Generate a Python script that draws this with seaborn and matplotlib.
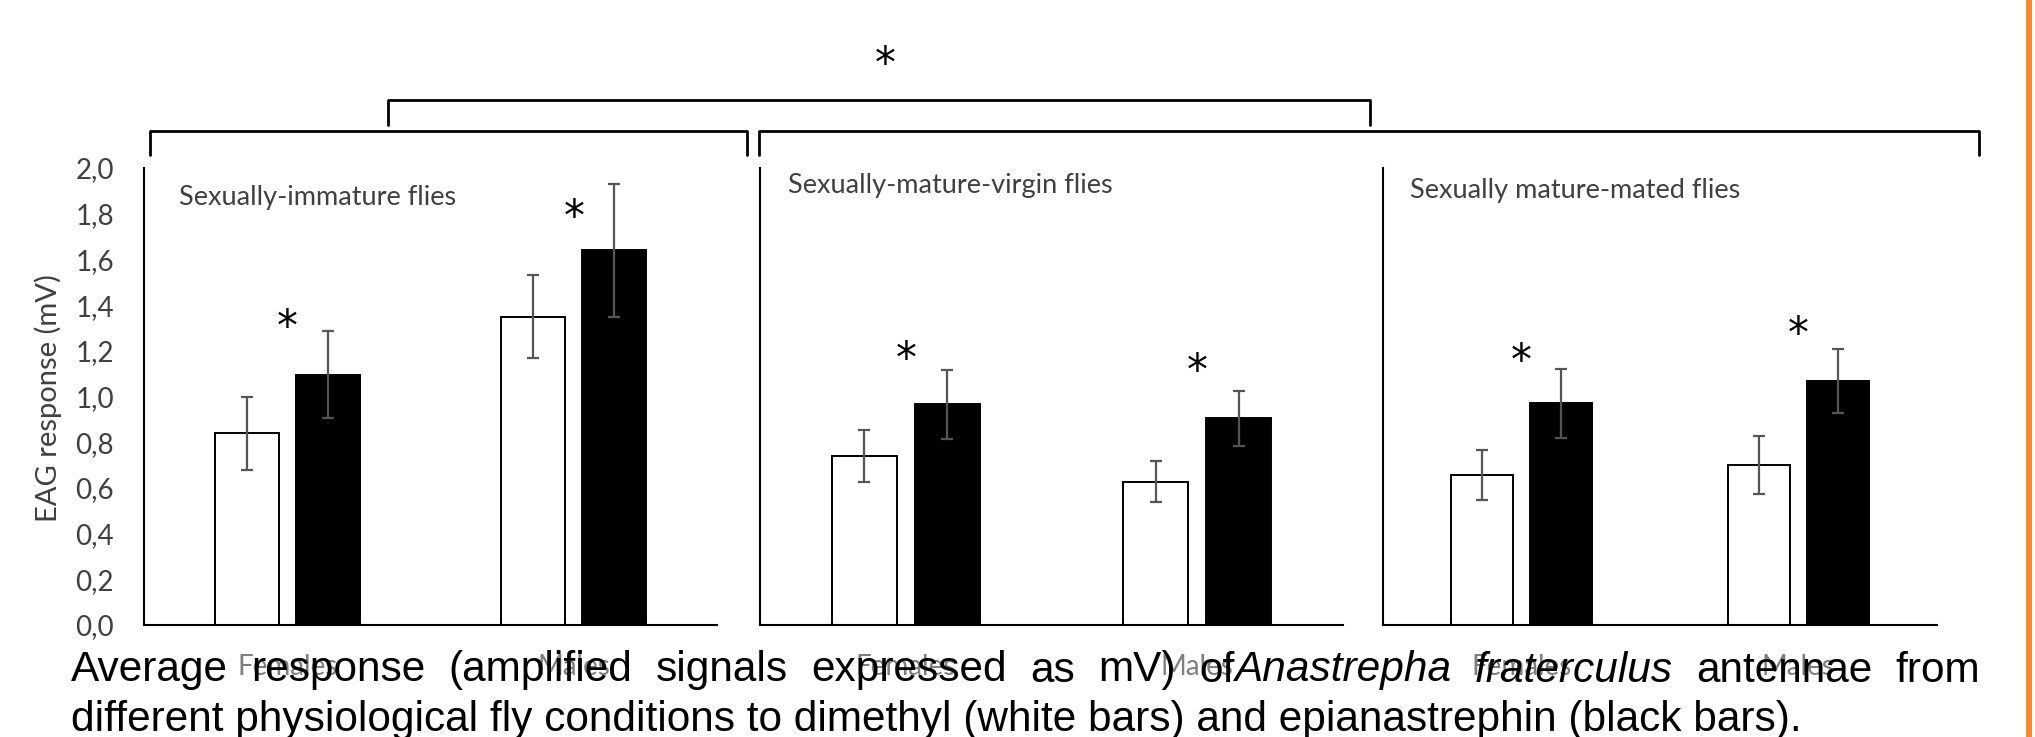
import numpy as np
import pandas as pd
import matplotlib
matplotlib.use("Agg")
import matplotlib.pyplot as plt
import matplotlib.transforms as mtransforms
from matplotlib.lines import Line2D
from matplotlib.patches import Rectangle
import seaborn as sns

# --- data ---
sexes = ["Females", "Males"]
compounds = ["Dimethyl", "Epianastrephin"]
panel_titles = ["Sexually-immature flies", "Sexually-mature-virgin flies", "Sexually mature-mated flies"]

# mean EAG response (mV), per panel: [Females, Males]
dimethyl_mean = [[0.84, 1.35], [0.74, 0.627], [0.658, 0.70]]
epianas_mean = [[1.095, 1.64], [0.965, 0.905], [0.97, 1.069]]
# error bar half-lengths
dimethyl_err = [[0.16, 0.18], [0.113, 0.09], [0.11, 0.128]]
epianas_err = [[0.19, 0.29], [0.152, 0.12], [0.151, 0.141]]
# height (mV) where the significance asterisks sit
star_heights = [[1.35, 1.83], [1.21, 1.155], [1.20, 1.32]]

yticks = np.arange(0, 2.01, 0.2)

caption_line1 = [[("Average", "normal")], [("response", "normal")], [("(amplified", "normal")],
                 [("signals", "normal")], [("expressed", "normal")], [("as", "normal")],
                 [("mV)", "normal")], [("of", "normal"), ("Anastrepha", "italic")],
                 [("fraterculus", "italic")], [("antennae", "normal")], [("from", "normal")]]
caption_line2 = "different physiological fly conditions to dimethyl (white bars) and epianastrephin (black bars)."

W, H = 2035, 737

sns.set_theme(style="white")
plt.rcParams["font.family"] = ["Lato", "DejaVu Sans"]

fig = plt.figure(figsize=(W / 100, H / 100), dpi=100)
fig.patch.set_facecolor("white")


def fx(px):
    return px / W


def fy(py):
    return 1 - py / H


# axes extents in pixels (left, right); y from 168 (2.0) to 625 (0.0)
panel_px = [(144.4, 716.8), (760.3, 1342.9), (1382.8, 1936.8)]
title_pos = [(0.060, 0.936), (0.048, 0.961), (0.049, 0.951)]
y_top, y_bot = 168, 625

axes = []
for i, (l, r) in enumerate(panel_px):
    ax = fig.add_axes([fx(l), fy(y_bot), (r - l) / W, (y_bot - y_top) / H])
    ax.set_facecolor("none")

    df = pd.DataFrame({
        "sex": sexes * 2,
        "compound": [compounds[0]] * 2 + [compounds[1]] * 2,
        "value": dimethyl_mean[i] + epianas_mean[i],
    })
    errs = dict()
    for j, s in enumerate(sexes):
        errs[(s, compounds[0])] = dimethyl_err[i][j]
        errs[(s, compounds[1])] = epianas_err[i][j]

    sns.barplot(data=df, x="sex", y="value", hue="compound", order=sexes,
                hue_order=compounds, palette={"Dimethyl": "white", "Epianastrephin": "black"},
                edgecolor="black", linewidth=1.4, width=0.57, gap=0.215,
                saturation=1, errorbar=None, legend=False, ax=ax)

    # error bars on top of each bar
    bars = sorted(ax.patches, key=lambda p: p.get_x())
    keys = [(s, c) for s in sexes for c in compounds]
    xs = [p.get_x() + p.get_width() / 2 for p in bars]
    hs = [p.get_height() for p in bars]
    ax.errorbar(xs, hs, yerr=[errs[k] for k in keys], fmt="none", ecolor="#555555",
                elinewidth=1.6, capsize=4.6, capthick=1.6, zorder=5)

    # significance asterisks, centred over each sex
    star_tr = ax.transData + mtransforms.ScaledTranslation(0, -16.8 / 72, fig.dpi_scale_trans)
    for j in range(len(sexes)):
        ax.text(j, star_heights[i][j], "*", ha="center", va="baseline", fontsize=30,
                family="DejaVu Sans", color="black", transform=star_tr)

    ax.set_xlim(-0.5, 1.5)
    ax.set_ylim(0, 2.0)
    ax.set_xlabel("")
    ax.set_ylabel("")
    for side in ["top", "right"]:
        ax.spines[side].set_visible(False)
    for side in ["left", "bottom"]:
        ax.spines[side].set_color("black")
        ax.spines[side].set_linewidth(1.5)
    ax.tick_params(axis="x", length=0, pad=21, labelsize=20, labelcolor="#7f7f7f")
    if i == 0:
        ax.set_yticks(yticks)
        ax.set_yticklabels([f"{v:.1f}".replace(".", ",") for v in yticks])
        ax.tick_params(axis="y", length=0, pad=22, labelsize=20, labelcolor="#404040")
    else:
        ax.set_yticks([])
    ax.grid(False)

    ax.text(title_pos[i][0], title_pos[i][1], panel_titles[i], transform=ax.transAxes,
            ha="left", va="center", fontsize=19.5, color="#404040")
    axes.append(ax)

fig.text(fx(48.5), fy(398.5), "EAG response (mV)", rotation=90, ha="center", va="center",
         fontsize=21, color="#404040")

# brackets grouping the panels
brackets = [
    ([387.8, 387.8, 1369.6, 1369.6], [124.6, 99.5, 99.5, 124.6]),
    ([149.5, 149.5, 747.4, 747.4], [155, 131, 131, 155]),
    ([759.4, 759.4, 1979.0, 1979.0], [155, 131, 131, 155]),
]
for bx, by in brackets:
    fig.add_artist(Line2D([fx(v) for v in bx], [fy(v) for v in by], color="black",
                          lw=2.0, solid_joinstyle="round", transform=fig.transFigure))

top_star_tr = fig.transFigure + mtransforms.ScaledTranslation(0, -16.8 / 72, fig.dpi_scale_trans)
fig.text(fx(884.7), fy(54), "*", ha="center", va="baseline", fontsize=30,
         family="DejaVu Sans", color="black", transform=top_star_tr)

# orange frame line at the right edge
fig.add_artist(Rectangle((fx(2026), 0), fx(6), 1, transform=fig.transFigure,
                         facecolor="#F68B2C", edgecolor="none"))

# caption, first line justified
cap_kw = dict(family=["Liberation Sans", "DejaVu Sans"], fontsize=30.5, color="black",
              va="baseline", ha="left")
renderer = fig.canvas.get_renderer()
x0, x1 = 71, 1980
groups = []
for group in caption_line1:
    parts = []
    w = 0
    for word, style in group:
        t = fig.text(0, fy(681.5), word, fontstyle=style, **cap_kw)
        parts.append((t, w))
        w += t.get_window_extent(renderer).width
    groups.append((parts, w))
space = (x1 - x0 - sum(w for _, w in groups)) / (len(groups) - 1)
x = x0
for parts, w in groups:
    for t, off in parts:
        t.set_x(fx(x + off))
    x += w + space

fig.text(fx(x0), fy(731.5), caption_line2, **cap_kw)

fig.savefig("out.png", dpi=100, facecolor="white")
